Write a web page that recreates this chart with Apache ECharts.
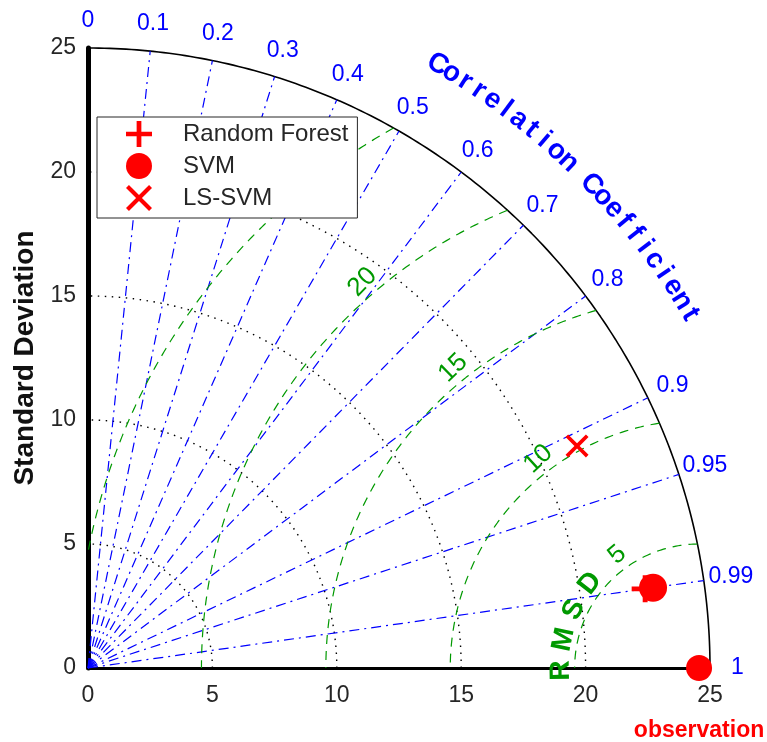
<!DOCTYPE html>
<html>
<head>
<meta charset="utf-8">
<script src="https://cdn.jsdelivr.net/npm/echarts@6/dist/echarts.min.js"></script>
<style>
  html, body { margin: 0; background: #fff; }
  #chart { width: 767px; height: 742px; }
</style>
</head>
<body>
<div id="chart"></div>
<script>
'use strict';

var FONT = '"Liberation Sans", Arial, sans-serif';
var BLUE = '#0000ff', GREEN = '#009900', RED = '#ff0000', INK = '#262626';

// model statistics (std dev, correlation with observation)
var models = ['Random Forest', 'SVM', 'LS-SVM'];
var modelStd = [22.62, 22.94, 21.6];
var modelCorr = [0.990, 0.990, 0.910];
var obsStd = 24.56;

// diagram grid
var stdMax = 25;
var stdTicks = [0, 5, 10, 15, 20, 25];
var stdRings = [5, 10, 15, 20];
var corrLines = [0.1, 0.2, 0.3, 0.4, 0.5, 0.6, 0.7, 0.8, 0.9, 0.95, 0.99];
var corrLabels = ['0', '0.1', '0.2', '0.3', '0.4', '0.5', '0.6', '0.7', '0.8', '0.9', '0.95', '0.99', '1'];
var rmsRings = [5, 10, 15, 20, 25];
var rmsLabels = [5, 10, 15, 20];

var PLUS = 'path://M9,0h4v9h9v4h-9v9h-4v-9h-9v-4h9z';
var CROSS = 'path://M0,2.5L2.5,0L11,8.5L19.5,0L22,2.5L13.5,11L22,19.5L19.5,22L11,13.5L2.5,22L0,19.5L8.5,11Z';
var modelSymbols = [PLUS, 'circle', CROSS];
var modelSizes = [27, 28, 23];

var rad = Math.PI / 180;

function polarPt(r, c) {
  return [r * c, r * Math.sqrt(Math.max(0, 1 - c * c))];
}

function arc(r, a0, a1, cx) {
  var pts = [], n = 180;
  for (var i = 0; i <= n; i++) {
    var a = (a0 + (a1 - a0) * i / n) * rad;
    pts.push([cx + r * Math.cos(a), r * Math.sin(a)]);
  }
  return pts;
}

function lineSeries(data, color, type, width) {
  return {
    type: 'line', data: data, symbol: 'none', silent: true, clip: false,
    animation: false, z: 2,
    lineStyle: { color: color, width: width || 1, type: type, opacity: 1 }
  };
}

function textSeries(items, style) {
  return {
    type: 'scatter', data: items, symbolSize: 1, silent: true, clip: false,
    animation: false, z: 6,
    itemStyle: { color: 'rgba(0,0,0,0)', opacity: 1 },
    label: Object.assign({ show: true, position: 'inside', formatter: '{b}', fontFamily: FONT, opacity: 1 }, style)
  };
}

var series = [];

// standard deviation rings
stdRings.forEach(function (r) {
  series.push(lineSeries(arc(r, 0, 90, 0), '#000', [1.5, 5.5], 1.4));
});
series.push(lineSeries(arc(stdMax, 0, 90, 0), '#000', 'solid', 1.6));

// correlation rays
corrLines.forEach(function (c) {
  series.push(lineSeries([[0, 0], polarPt(stdMax, c)], BLUE, [10, 5, 2, 5], 1.2));
});

// centred RMS difference rings, clipped to the quadrant
rmsRings.forEach(function (R) {
  var xi = (obsStd * obsStd + stdMax * stdMax - R * R) / (2 * obsStd);
  var a0 = Math.atan2(Math.sqrt(stdMax * stdMax - xi * xi), xi - obsStd) / rad;
  var a1 = R <= obsStd ? 180 : Math.atan2(Math.sqrt(R * R - obsStd * obsStd), -obsStd) / rad;
  series.push(lineSeries(arc(R, a0, a1, obsStd), GREEN, [9, 7], 1.2));
});

// correlation tick labels
series.push(textSeries(corrLabels.map(function (t) {
  return { name: t, value: polarPt(26.1, parseFloat(t)) };
}), { fontSize: 23, color: BLUE }));

// curved title "Correlation Coefficient"
var title = 'Correlation Coefficient';
series.push(textSeries(title.split('').map(function (ch, i) {
  var a = 60 - i * 29.5 / (title.length - 1);
  return {
    name: ch, value: [28.1 * Math.cos(a * rad), 28.1 * Math.sin(a * rad)],
    label: { rotate: a - 90 }
  };
}), { fontSize: 28, fontWeight: 'bold', color: BLUE }));

// RMS ring labels
series.push(textSeries(rmsLabels.map(function (R) {
  var a = 124 + 0.35 * R;
  return {
    name: String(R),
    value: [obsStd + (R + 0.62) * Math.cos(a * rad), (R + 0.62) * Math.sin(a * rad)],
    label: { rotate: a - 85 }
  };
}), { fontSize: 26, color: GREEN }));

series.push(textSeries('RMSD'.split('').map(function (ch, i) {
  var a = 181 - 13 * i;
  return {
    name: ch, value: [obsStd + 5.55 * Math.cos(a * rad), 5.55 * Math.sin(a * rad)],
    label: { rotate: a - 90 }
  };
}), { fontSize: 28, fontWeight: 'bold', color: GREEN }));

// models
models.forEach(function (m, i) {
  series.push({
    name: m, type: 'scatter', animation: false, z: 8 + i, clip: false,
    symbol: modelSymbols[i], symbolSize: modelSizes[i],
    itemStyle: { color: RED, opacity: 1 },
    data: [polarPt(modelStd[i], modelCorr[i])]
  });
});

// observation point
series.push({
  name: 'observation', type: 'scatter', animation: false, z: 12, clip: false,
  symbol: 'circle', symbolSize: 26, itemStyle: { color: RED, opacity: 1 },
  data: [[obsStd, 0]],
  label: {
    show: true, position: 'bottom', distance: 38, formatter: 'observation',
    color: RED, fontSize: 23, fontWeight: 'bold', fontFamily: FONT
  }
});

var chart = echarts.init(document.getElementById('chart'));
chart.setOption({
  backgroundColor: '#fff',
  animation: false,
  grid: { left: 88, top: 48, width: 622, height: 620 },
  xAxis: {
    type: 'value', min: 0, max: stdMax, interval: 5,
    splitLine: { show: false }, axisTick: { show: false },
    axisLine: { lineStyle: { color: '#000', width: 3 } },
    axisLabel: { fontSize: 23, color: INK, margin: 16, fontFamily: FONT }
  },
  yAxis: {
    type: 'value', min: 0, max: stdMax, interval: 5,
    splitLine: { show: false }, axisTick: { show: false },
    axisLine: { lineStyle: { color: '#000', width: 5 } },
    axisLabel: { fontSize: 23, color: INK, margin: 12, fontFamily: FONT },
    name: 'Standard Deviation', nameLocation: 'middle', nameGap: 49,
    nameTextStyle: { fontSize: 28, fontWeight: 'bold', color: '#111', fontFamily: FONT }
  },
  legend: {
    orient: 'vertical', left: 97, top: 117,
    data: models.map(function (m, i) { return { name: m, icon: modelSymbols[i] }; }),
    itemWidth: 26, itemHeight: 26, itemGap: 6,
    padding: [4, 9, 7, 29],
    backgroundColor: '#fff', borderColor: INK, borderWidth: 1, borderRadius: 0,
    selectedMode: false,
    textStyle: { fontSize: 24, color: INK, fontFamily: FONT, padding: [0, 0, 0, 26] }
  },
  series: series
});
</script>
</body>
</html>
